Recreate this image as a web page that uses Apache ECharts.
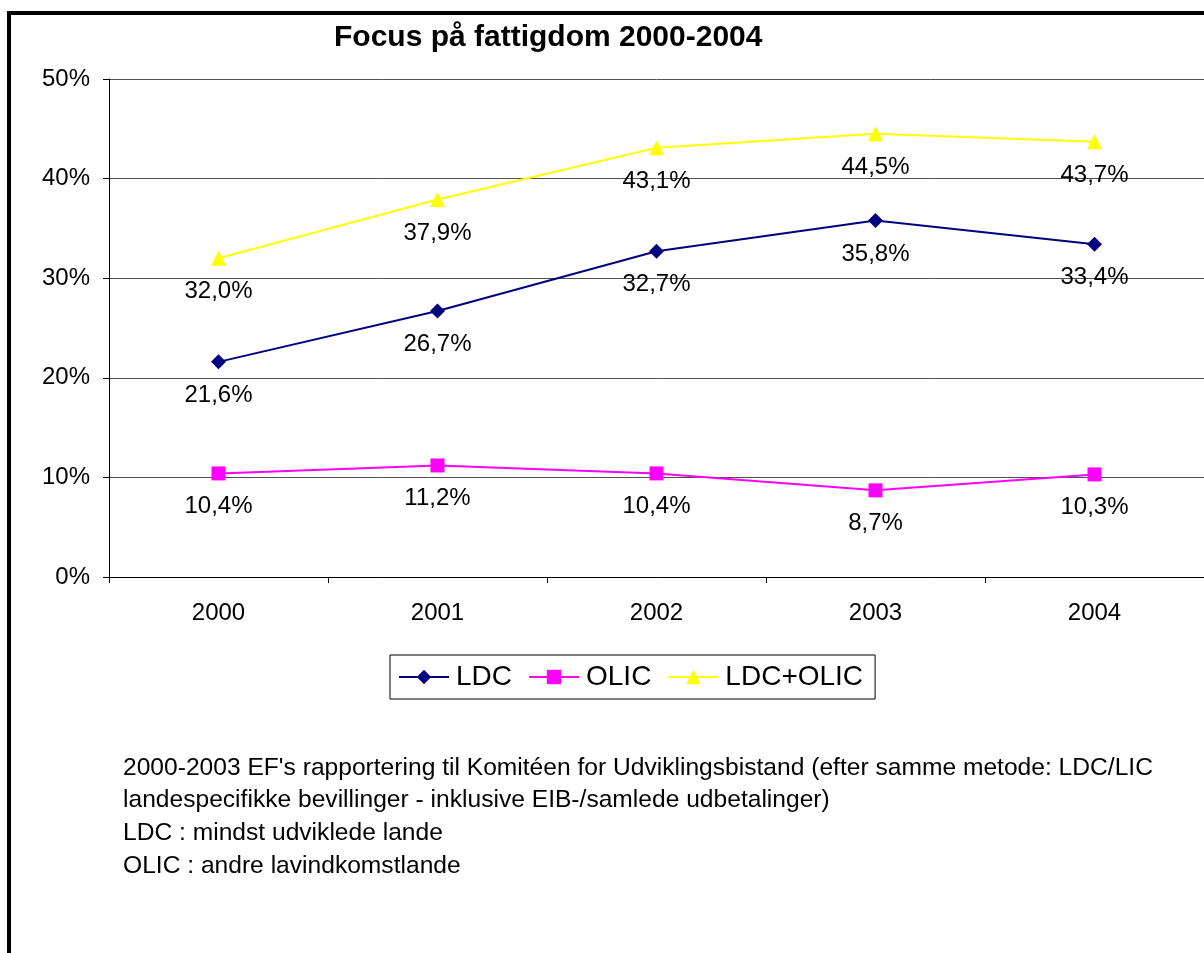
<!DOCTYPE html>
<html>
<head>
<meta charset="utf-8">
<title>Focus på fattigdom 2000-2004</title>
<script src="https://cdn.jsdelivr.net/npm/echarts@6/dist/echarts.min.js"></script>
<style>
    html, body { margin: 0; padding: 0; background: #fff; }
    #chart { width: 1204px; height: 953px; }
</style>
</head>
<body>
<div id="chart"></div>
<script>
// data
var years = ['2000', '2001', '2002', '2003', '2004']
var ldc = [21.6, 26.7, 32.7, 35.8, 33.4]
var olic = [10.4, 11.2, 10.4, 8.7, 10.3]
var ldcOlic = [32.0, 37.9, 43.1, 44.5, 43.7]

var notes = [
    "2000-2003 EF's rapportering til Komitéen for Udviklingsbistand (efter samme metode: LDC/LIC",
    'landespecifikke bevillinger - inklusive EIB-/samlede udbetalinger)',
    'LDC : mindst udviklede lande',
    'OLIC : andre lavindkomstlande'
]
var noteY = [756, 788, 821, 854]

var font = 'Liberation Sans, Arial, sans-serif'

// comma decimal like the original
function pct(v) {
    return v.toFixed(1).replace('.', ',') + '%'
}

function makeSeries(name, data, color, symbol, size) {
    return {
        name: name,
        type: 'line',
        data: data,
        symbol: symbol,
        symbolSize: size,
        lineStyle: { color: color, width: 2 },
        itemStyle: { color: color },
        label: {
            show: true,
            position: 'bottom',
            distance: 14,
            color: '#000',
            fontFamily: font,
            fontSize: 24,
            formatter: function (p) { return pct(p.value) },
        },
        emphasis: { disabled: true },
        animation: false,
    }
}

var chart = echarts.init(document.getElementById('chart'))

var graphics = [
    // black frame (left + top)
    {
        type: 'polyline',
        shape: { points: [[9, 953], [9, 13], [1204, 13]] },
        style: { stroke: '#000', lineWidth: 4, fill: null },
    },
]
notes.forEach(function (t, i) {
    graphics.push({
        type: 'text',
        left: 123,
        top: noteY[i],
        style: { text: t, fill: '#000', font: '24.6px ' + font },
    })
})

var option = {
    backgroundColor: '#fff',
    animation: false,
    title: {
        text: 'Focus på fattigdom 2000-2004',
        left: 329,
        top: 18,
        textStyle: { color: '#000', fontFamily: font, fontSize: 30, fontWeight: 'bold' },
    },
    grid: {
        left: 109,
        top: 79,
        width: 1100,
        height: 498,
    },
    legend: {
        left: 390,
        top: 655,
        padding: [8, 12, 8, 8],
        borderColor: '#000',
        borderWidth: 1,
        itemWidth: 50,
        itemHeight: 18,
        itemGap: 16,
        textStyle: { color: '#000', fontFamily: font, fontSize: 28, padding: [0, 0, 0, 2] },
        selectedMode: false,
    },
    xAxis: {
        type: 'category',
        data: years,
        boundaryGap: true,
        axisLine: { lineStyle: { color: '#000', width: 1 } },
        axisTick: { show: true, length: 6, lineStyle: { color: '#000' } },
        axisLabel: { color: '#000', fontFamily: font, fontSize: 24, margin: 24 },
        splitLine: { show: false },
    },
    yAxis: {
        type: 'value',
        min: 0,
        max: 50,
        interval: 10,
        axisLine: { show: true, lineStyle: { color: '#000', width: 1 } },
        axisTick: { show: true, length: 6, lineStyle: { color: '#000' } },
        axisLabel: { color: '#000', fontFamily: font, fontSize: 24, margin: 19, formatter: '{value}%' },
        splitLine: { show: true, lineStyle: { color: '#505050', width: 1 } },
    },
    series: [
        makeSeries('LDC', ldc, '#000080', 'diamond', 15),
        makeSeries('OLIC', olic, '#FF00FF', 'rect', 14),
        makeSeries('LDC+OLIC', ldcOlic, '#FFFF00', 'triangle', 15),
    ],
    graphic: graphics,
}

chart.setOption(option)
window.addEventListener('resize', chart.resize)
</script>
</body>
</html>
